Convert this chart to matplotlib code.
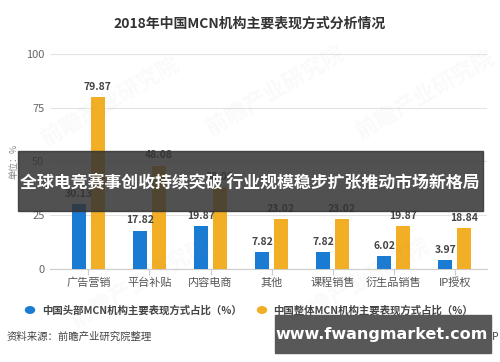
import matplotlib.pyplot as plt
from matplotlib.patches import Rectangle
import numpy as np

plt.rcParams['font.family'] = ['Noto Sans CJK SC', 'DejaVu Sans']

categories = ['广告营销', '平台补贴', '内容电商', '其他', '课程销售', '衍生品销售', 'IP授权']
head_mcn = [30.13, 17.82, 19.87, 7.82, 7.82, 6.02, 3.97]
all_mcn = [79.87, 48.08, 38.02, 23.02, 23.02, 19.87, 18.84]
yticks = [0, 25, 50, 75, 100]

blue = '#1a7bd3'
orange = '#f2ae24'

fig = plt.figure(figsize=(5, 3.62), dpi=100)
ax = fig.add_axes([0.1, 0.257, 0.874, 0.594])

x = np.arange(len(categories))
w = 0.23
off = 0.155
b1 = ax.bar(x - off, head_mcn, w, color=blue, zorder=3)
b2 = ax.bar(x + off, all_mcn, w, color=orange, zorder=3)

for bars, vals in ((b1, head_mcn), (b2, all_mcn)):
    for bar, v in zip(bars, vals):
        ax.text(bar.get_x() + bar.get_width() / 2, v + 2.5, '%.2f' % v,
                ha='center', va='bottom', fontsize=7.5, fontweight='bold',
                color='#444444', zorder=4)

ax.set_xlim(-0.63, 6.53)
ax.set_ylim(0, 100)
ax.set_yticks(yticks)
ax.set_xticks(x)
ax.set_xticklabels(categories, fontsize=8, color='#555555')
ax.tick_params(axis='y', length=0, labelsize=8, labelcolor='#666666', pad=4)
ax.tick_params(axis='x', length=4, color='#cccccc', pad=2)
ax.grid(axis='y', color='#e3e3e3', linewidth=0.8, zorder=0)
for s in ['top', 'right', 'left']:
    ax.spines[s].set_visible(False)
ax.spines['bottom'].set_color('#cccccc')

fig.text(0.5, 0.935, '2018年中国MCN机构主要表现方式分析情况', ha='center', va='center',
         fontsize=10, fontweight='bold', color='#333333')
fig.text(0.028, 0.555, '单位：%', rotation=90, ha='center', va='center',
         fontsize=6.5, color='#888888')

# faint watermarks
for wx, wy in [(0.22, 0.72), (0.55, 0.75), (0.85, 0.74), (0.28, 0.22), (0.72, 0.22)]:
    fig.text(wx, wy, '前瞻产业研究院', rotation=30, ha='center', va='center',
             fontsize=16, fontweight='bold', color='#999999', alpha=0.05)

# legend
fig.patches.append(plt.Circle((30 / 500, 1 - 310 / 362), 0.009, transform=fig.transFigure,
                              color=blue, figure=fig))
fig.text(42 / 500, 1 - 310 / 362, '中国头部MCN机构主要表现方式占比（%）', va='center',
         fontsize=7.5, fontweight='bold', color='#444444')
fig.patches.append(plt.Circle((262 / 500, 1 - 310 / 362), 0.009, transform=fig.transFigure,
                              color=orange, figure=fig))
fig.text(273 / 500, 1 - 310 / 362, '中国整体MCN机构主要表现方式占比（%）', va='center',
         fontsize=7.5, fontweight='bold', color='#444444')

fig.text(7 / 500, 1 - 337 / 362, '资料来源：前瞻产业研究院整理', va='center',
         fontsize=7.5, color='#444444')
fig.text(499 / 500, 1 - 337 / 362, '前瞻经济学人APP', va='center', ha='right',
         fontsize=7.5, color='#444444')

# overlay banner
fig.patches.append(Rectangle((18 / 500, 1 - 211 / 362), 465 / 500, 60 / 362,
                             transform=fig.transFigure, color='#333333', alpha=0.85,
                             zorder=10, figure=fig))
fig.text(250 / 500, 1 - 182 / 362, '全球电竞赛事创收持续突破 行业规模稳步扩张推动市场新格局',
         ha='center', va='center', fontsize=12.2, fontweight='bold', color='white', zorder=11)

# bottom-right box
fig.patches.append(Rectangle((275 / 500, 1 - 353 / 362), 216 / 500, 38 / 362,
                             transform=fig.transFigure, color='#585858', zorder=10, figure=fig))
fig.text(382 / 500, 1 - 334 / 362, 'www.fwangmarket.com', ha='center', va='center',
         fontsize=11.5, fontweight='bold', color='white', zorder=11, family='DejaVu Sans')

fig.savefig('out.png', dpi=100)
